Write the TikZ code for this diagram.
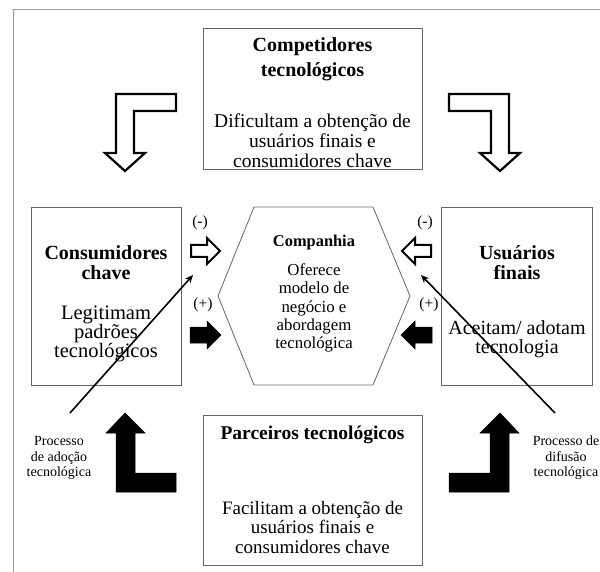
\documentclass[tikz,border=0pt]{standalone}
\usepackage{fontspec}
\setmainfont{Liberation Serif}
\usetikzlibrary{arrows.meta}
\begin{document}
\begin{tikzpicture}[x=1pt,y=-1pt,
  frameline/.style={draw=black!40, line width=0.9pt},
  panel/.style={draw=black!60, line width=0.8pt, fill=white, inner sep=0pt},
  txt/.style={align=center, inner sep=0pt, font=\fontsize{19.5}{20}\selectfont},
  head/.style={align=center, inner sep=0pt, font=\bfseries\fontsize{20}{20}\selectfont},
  small/.style={align=center, inner sep=0pt, font=\fontsize{14}{15.5}\selectfont},
  sign/.style={inner sep=0pt, font=\fontsize{15.5}{16}\selectfont},
  hollowarrow/.style={draw=black, line width=2.2pt, fill=white, line join=miter},
  solidarrow/.style={draw=black, fill=black, line width=0.5pt, line join=miter},
  pointer/.style={draw=black, line width=1.6pt, -{Stealth[length=8pt,width=7pt]}}]
\useasboundingbox (0,0) rectangle (600,572);

% outer frame (top and left edges)
\draw[frameline] (13,572) -- (13,9) -- (600,9);

% boxes
\node[panel, minimum width=219pt, minimum height=141pt] (comp) at (312.5,98.5) {};
\node[panel, minimum width=150pt, minimum height=178pt] (cons) at (106,296) {};
\node[panel, minimum width=151pt, minimum height=178pt] (user) at (516.5,296) {};
\node[panel, minimum width=219pt, minimum height=150pt] (parc) at (312.5,490) {};

% central hexagon
\coordinate (h1) at (218,296);
\coordinate (h2) at (254,207);
\coordinate (h3) at (373,207);
\coordinate (h4) at (410,296);
\coordinate (h5) at (373,385);
\coordinate (h6) at (254,385);
\draw[draw=black!60, line width=0.8pt, fill=white] (h1) -- (h2) -- (h3) -- (h4) -- (h5) -- (h6) -- cycle;

% texts of the top box
\node[head, font=\bfseries\fontsize{20}{25}\selectfont] (compT) at (312.5,59) {Competidores\\tecnológicos};
\node[txt] (compB) at (312.5,141) {Dificultam a obtenção de\\usuários finais e\\consumidores chave};

% texts of the side boxes
\node[head] (consT) at (106,263) {Consumidores\\chave};
\node[txt, font=\fontsize{20.5}{19}\selectfont] (consB) at (106,334) {Legitimam\\padrões\\tecnológicos};
\node[head] (userT) at (517,263) {Usuários\\finais};
\node[txt, font=\fontsize{20}{19}\selectfont] (userB) at (517,339) {Aceitam/ adotam\\tecnologia};

% texts of the hexagon
\node[head, font=\bfseries\fontsize{16.4}{16}\selectfont] (hexT) at (314,243) {Companhia};
\node[txt, font=\fontsize{16.8}{18.3}\selectfont] (hexB) at (314,308) {Oferece\\modelo de\\negócio e\\abordagem\\tecnológica};

% texts of the bottom box
\node[head, font=\bfseries\fontsize{19.5}{20}\selectfont] (parcT) at (312.5,435) {Parceiros tecnológicos};
\node[txt, font=\fontsize{19}{19.5}\selectfont] (parcB) at (312.5,527) {Facilitam a obtenção de\\usuários finais e\\consumidores chave};

% bent hollow arrows from the competitors
\draw[hollowarrow] (176,94) -- (116,94) -- (116,153) -- (105,153) -- (125,171) -- (145,153) -- (134,153) -- (134,111) -- (176,111) -- cycle;
\draw[hollowarrow] (449,94) -- (509,94) -- (509,153) -- (520,153) -- (500,171) -- (480,153) -- (491,153) -- (491,111) -- (449,111) -- cycle;

% bent solid arrows from the partners
\draw[solidarrow] (176,492) -- (116,492) -- (116,433) -- (106,433) -- (125,413) -- (145,433) -- (135,433) -- (135,473) -- (176,473) -- cycle;
\draw[solidarrow] (449,492) -- (509,492) -- (509,433) -- (519,433) -- (500,413) -- (480,433) -- (490,433) -- (490,473) -- (449,473) -- cycle;

% small arrows towards the company
\draw[hollowarrow, line width=2pt] (191,245) -- (207,245) -- (207,238) -- (220,251) -- (207,264) -- (207,257) -- (191,257) -- cycle;
\draw[solidarrow] (190,327) -- (207,327) -- (207,321) -- (221,335) -- (207,349) -- (207,343) -- (190,343) -- cycle;
\draw[hollowarrow, line width=2pt] (431,245) -- (415,245) -- (415,238) -- (402,251) -- (415,264) -- (415,257) -- (431,257) -- cycle;
\draw[solidarrow] (432,327) -- (415,327) -- (415,321) -- (401,335) -- (415,349) -- (415,343) -- (432,343) -- cycle;

% signs
\node[sign] (lm) at (200,223) {(-)};
\node[sign] (lp) at (203,305) {(+)};
\node[sign] (rm) at (425,223) {(-)};
\node[sign] (rp) at (429,305) {(+)};

% process labels and their pointers
\node[small] (adop) at (59,458) {Processo\\de adoção\\tecnológica};
\node[small] (difu) at (566,458) {Processo de\\difusão\\tecnológica};
\coordinate (adopS) at (70,413);
\coordinate (adopE) at (193,275);
\coordinate (difuS) at (555,413);
\coordinate (difuE) at (421,275);
\draw[pointer] (adopS) -- (adopE);
\draw[pointer] (difuS) -- (difuE);
\end{tikzpicture}
\end{document}
